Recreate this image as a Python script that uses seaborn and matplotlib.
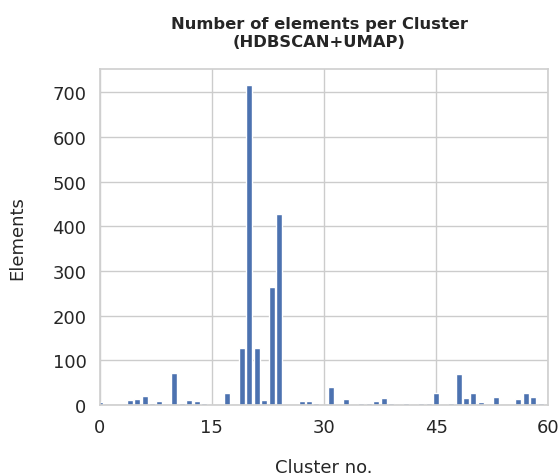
import matplotlib
matplotlib.use("Agg")
import matplotlib.pyplot as plt
import seaborn as sns
import pandas as pd

clusters = [0, 4, 5, 6, 7, 8, 10, 11, 12, 13, 14, 17, 19, 20, 21, 22, 23, 24,
            27, 28, 29, 31, 33, 35, 36, 37, 38, 39, 41, 43, 44, 45, 47, 48, 49,
            50, 51, 53, 56, 57, 58, 59]
counts = [6, 11, 13, 21, 4, 9, 72, 4, 11, 9, 4, 27, 127, 716, 127, 10, 264, 427,
          8, 8, 5, 41, 14, 5, 5, 9, 16, 5, 5, 5, 5, 26, 5, 69, 16,
          26, 7, 18, 14, 26, 18, 5]

df = pd.DataFrame({"cluster": clusters, "count": counts})

sns.set_theme(style="whitegrid")
plt.rcParams['font.family'] = ['DejaVu Sans']
plt.rcParams['font.stretch'] = 'normal'

fig, ax = plt.subplots(figsize=(5.6, 4.77), dpi=100)
sns.barplot(data=df, x="cluster", y="count", native_scale=True,
            color="#4C72B0", saturation=1, width=0.8, ax=ax)
ax.set_xlim(0, 60)
ax.set_xticks([0, 15, 30, 45, 60])
ax.set_yticks([0, 100, 200, 300, 400, 500, 600, 700])
ax.tick_params(labelsize=13)
ax.set_xlabel("Cluster no.", fontsize=13, labelpad=16)
ax.set_ylabel("Elements", fontsize=13, labelpad=19)
ax.set_title("Number of elements per Cluster\n(HDBSCAN+UMAP)", fontsize=11.8,
             fontweight="bold", fontstretch="normal", family="DejaVu Sans",
             pad=17, x=0.49)
for s in ax.spines.values():
    s.set_color("#d0d0d0")
fig.subplots_adjust(left=0.178, right=0.979, top=0.853, bottom=0.149)
fig.savefig("out.png", dpi=100)
